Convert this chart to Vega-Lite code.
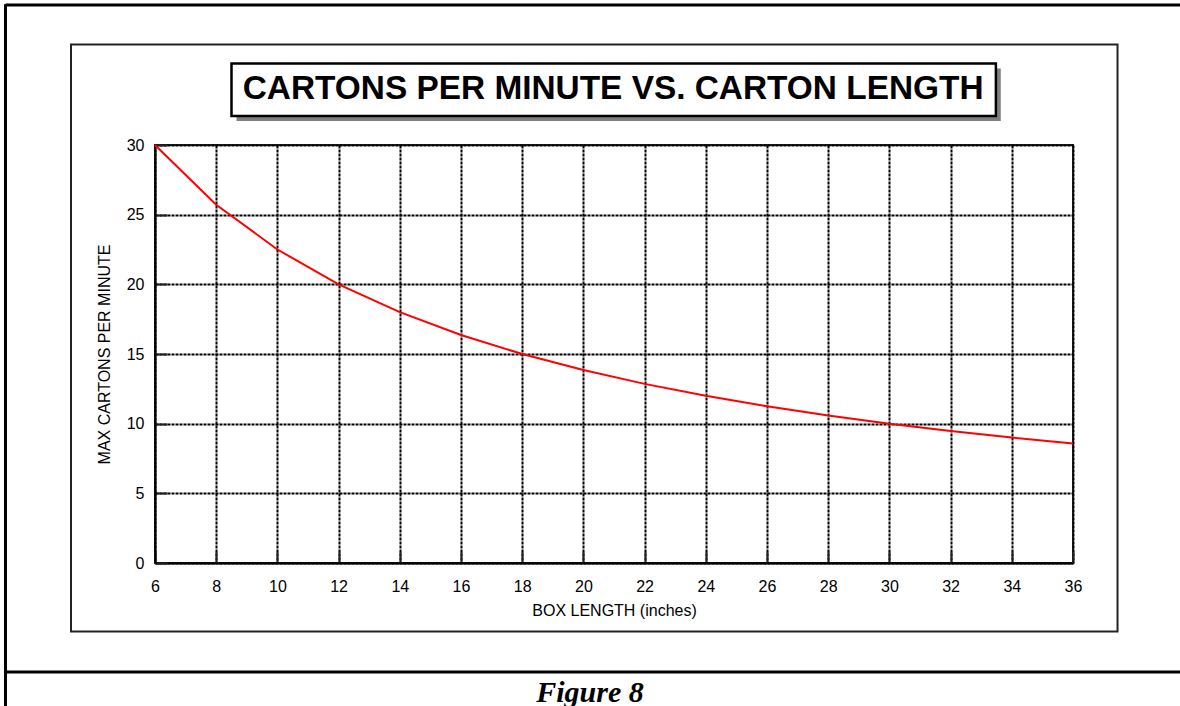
{
  "$schema": "https://vega.github.io/schema/vega-lite/v6.json",
  "width": 918,
  "height": 418,
  "autosize": {"type": "none"},
  "padding": {"left": 155, "top": 145, "right": 107, "bottom": 143},
  "background": "white",
  "config": {
    "view": {"stroke": "#222", "strokeWidth": 2},
    "font": "Liberation Sans"
  },
  "datasets": {
    "curve": [
      {"len": 6, "cpm": 30},
      {"len": 8, "cpm": 25.714},
      {"len": 10, "cpm": 22.5},
      {"len": 12, "cpm": 20},
      {"len": 14, "cpm": 18},
      {"len": 16, "cpm": 16.364},
      {"len": 18, "cpm": 15},
      {"len": 20, "cpm": 13.846},
      {"len": 22, "cpm": 12.857},
      {"len": 24, "cpm": 12},
      {"len": 26, "cpm": 11.25},
      {"len": 28, "cpm": 10.588},
      {"len": 30, "cpm": 10},
      {"len": 32, "cpm": 9.474},
      {"len": 34, "cpm": 9},
      {"len": 36, "cpm": 8.571}
    ],
    "shadow": [{"len": 8.663, "len2": 33.64, "cpm": 35.49, "cpm2": 31.72}],
    "titlebox": [{"len": 8.5, "len2": 33.48, "cpm": 35.85, "cpm2": 32.08}],
    "innerbox": [{"len": 3.255, "len2": 37.455, "cpm": 37.21, "cpm2": -4.916}],
    "hrules": [
      {"len": 1.114, "len2": 39.8, "cpm": 40.05},
      {"len": 1.114, "len2": 39.8, "cpm": -7.823}
    ],
    "vrules": [{"len": 1.114, "cpm": 40.1, "cpm2": -10.6}],
    "titletext": [{"len": 20.97, "cpm": 33.3, "label": "CARTONS PER MINUTE VS. CARTON LENGTH"}],
    "caption": [{"len": 20.216, "cpm": -9.955, "label": "Figure 8"}]
  },
  "encoding": {
    "x": {
      "field": "len", "type": "quantitative",
      "scale": {"domain": [6, 36], "nice": false, "zero": false},
      "axis": {
        "title": "BOX LENGTH (inches)",
        "values": [6, 8, 10, 12, 14, 16, 18, 20, 22, 24, 26, 28, 30, 32, 34, 36],
        "grid": true, "gridColor": "black", "gridWidth": 2, "gridDash": [3, 1], "gridOpacity": 1,
        "domainColor": "black", "domainWidth": 2,
        "ticks": true, "tickSize": -12, "tickColor": "#222", "tickWidth": 2,
        "labelFont": "Liberation Sans", "labelFontSize": 16, "labelColor": "black", "labelPadding": 27,
        "labelFlush": false,
        "titleFont": "Liberation Sans", "titleFontSize": 16, "titleFontWeight": "normal", "titleColor": "black", "titlePadding": 8
      }
    },
    "y": {
      "field": "cpm", "type": "quantitative",
      "scale": {"domain": [0, 30], "nice": false, "zero": false},
      "axis": {
        "title": "MAX CARTONS PER MINUTE",
        "values": [0, 5, 10, 15, 20, 25, 30],
        "grid": true, "gridColor": "black", "gridWidth": 2, "gridDash": [3, 1], "gridOpacity": 1,
        "domainColor": "black", "domainWidth": 2,
        "ticks": true, "tickSize": -12, "tickColor": "#222", "tickWidth": 2,
        "labelFont": "Liberation Sans", "labelFontSize": 16, "labelColor": "black", "labelPadding": 23,
        "labelFlush": false,
        "titleFont": "Liberation Sans", "titleFontSize": 16, "titleFontWeight": "normal", "titleColor": "black", "titlePadding": 14
      }
    }
  },
  "layer": [
    {
      "data": {"name": "curve"},
      "mark": {"type": "line", "color": "#ff0000", "strokeWidth": 2, "clip": false}
    },
    {
      "data": {"name": "innerbox"},
      "mark": {"type": "rect", "fill": null, "stroke": "#222", "strokeWidth": 2},
      "encoding": {"x2": {"field": "len2"}, "y2": {"field": "cpm2"}}
    },
    {
      "data": {"name": "hrules"},
      "mark": {"type": "rule", "stroke": "black", "strokeWidth": 3},
      "encoding": {"x2": {"field": "len2"}}
    },
    {
      "data": {"name": "vrules"},
      "mark": {"type": "rule", "stroke": "black", "strokeWidth": 3},
      "encoding": {"y2": {"field": "cpm2"}}
    },
    {
      "data": {"name": "shadow"},
      "mark": {"type": "rect", "fill": "#808080"},
      "encoding": {"x2": {"field": "len2"}, "y2": {"field": "cpm2"}}
    },
    {
      "data": {"name": "titlebox"},
      "mark": {"type": "rect", "fill": "white", "stroke": "black", "strokeWidth": 2.5},
      "encoding": {"x2": {"field": "len2"}, "y2": {"field": "cpm2"}}
    },
    {
      "data": {"name": "titletext"},
      "mark": {"type": "text", "font": "Liberation Sans", "fontSize": 33.4, "fontWeight": "bold", "color": "black", "align": "center", "baseline": "alphabetic"},
      "encoding": {"text": {"field": "label"}}
    },
    {
      "data": {"name": "caption"},
      "mark": {"type": "text", "font": "Liberation Serif", "fontSize": 30, "fontWeight": "bold", "fontStyle": "italic", "color": "black", "align": "center", "baseline": "alphabetic"},
      "encoding": {"text": {"field": "label"}}
    }
  ]
}
